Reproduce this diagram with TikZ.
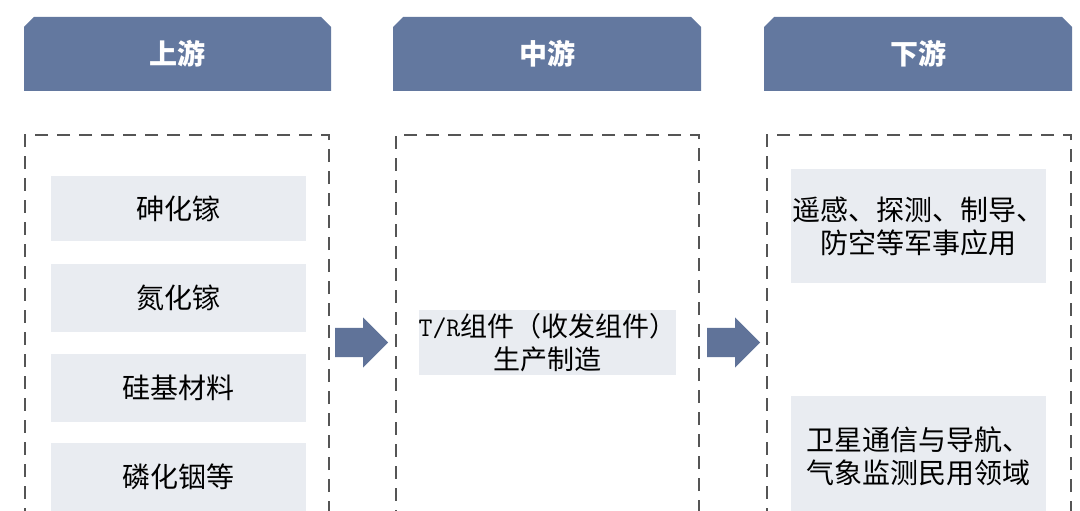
\documentclass[tikz,border=0pt]{standalone}
\usepackage{fontspec}
\setmainfont{Noto Sans CJK SC}
\usetikzlibrary{shapes.misc,shapes.arrows}

\definecolor{headblue}{RGB}{99,120,159}
\definecolor{arrowblue}{RGB}{96,115,153}
\definecolor{itemgray}{RGB}{233,236,241}
\definecolor{dashgray}{RGB}{85,85,85}

\tikzset{
  stage/.style={chamfered rectangle, chamfered rectangle corners={north west,north east},
    chamfered rectangle xsep=5pt, chamfered rectangle ysep=5pt,
    fill=headblue, text=white, inner sep=0pt, minimum height=74pt,
    font=\fontsize{28}{33}\selectfont\bfseries},
  column/.style={draw=dashgray, line width=1.3pt, dash pattern=on 13pt off 9pt,
    inner sep=0pt, minimum height=405pt},
  item/.style={fill=itemgray, inner sep=0pt, minimum width=255pt, align=center,
    font=\fontsize{28}{33}\selectfont},
  flow/.style={single arrow, fill=arrowblue, inner xsep=0pt, inner ysep=14.5pt,
    single arrow head extend=10.5pt, minimum height=53pt, anchor=tail}
}

\begin{document}
\begin{tikzpicture}[x=1pt,y=-1pt]
  \useasboundingbox (0,0) rectangle (1080,511);
  \clip (0,0) rectangle (1080,511);

  \node[stage, minimum width=307pt] (up) at (177.5,54) {上游};
  \node[stage, minimum width=308pt] (mid) at (547,54) {中游};
  \node[stage, minimum width=308pt] (down) at (918,54) {下游};

  \node[column, minimum width=304pt] (colU) at (177,337.5) {};
  \node[column, minimum width=303pt] (colM) at (547.5,337.5) {};
  \node[column, minimum width=304pt] (colD) at (919,337.5) {};

  % upstream materials
  \node[item, minimum height=65pt] (gaas) at (178.5,208.5) {砷化镓};
  \node[item, minimum height=68pt] (gan) at (178.5,298) {氮化镓};
  \node[item, minimum height=68pt] (si) at (178.5,388) {硅基材料};
  \node[item, minimum height=68pt] (inp) at (178.5,477) {磷化铟等};

  % midstream
  \node[item, minimum height=65pt, font=\fontsize{27}{33}\selectfont] (tr) at (547.5,342.5)
    {{\ttfamily T/R}组件（收发组件）\\生产制造};

  % downstream
  \node[item, minimum height=114pt] (mil) at (918.5,226)
    {遥感、探测、制导、\\防空等军事应用};
  \node[item, minimum height=120pt] (civ) at (918.5,456)
    {卫星通信与导航、\\气象监测民用领域};

  \node[flow] (arrUM) at (335,342.5) {};
  \node[flow] (arrMD) at (707,342.5) {};
\end{tikzpicture}
\end{document}
